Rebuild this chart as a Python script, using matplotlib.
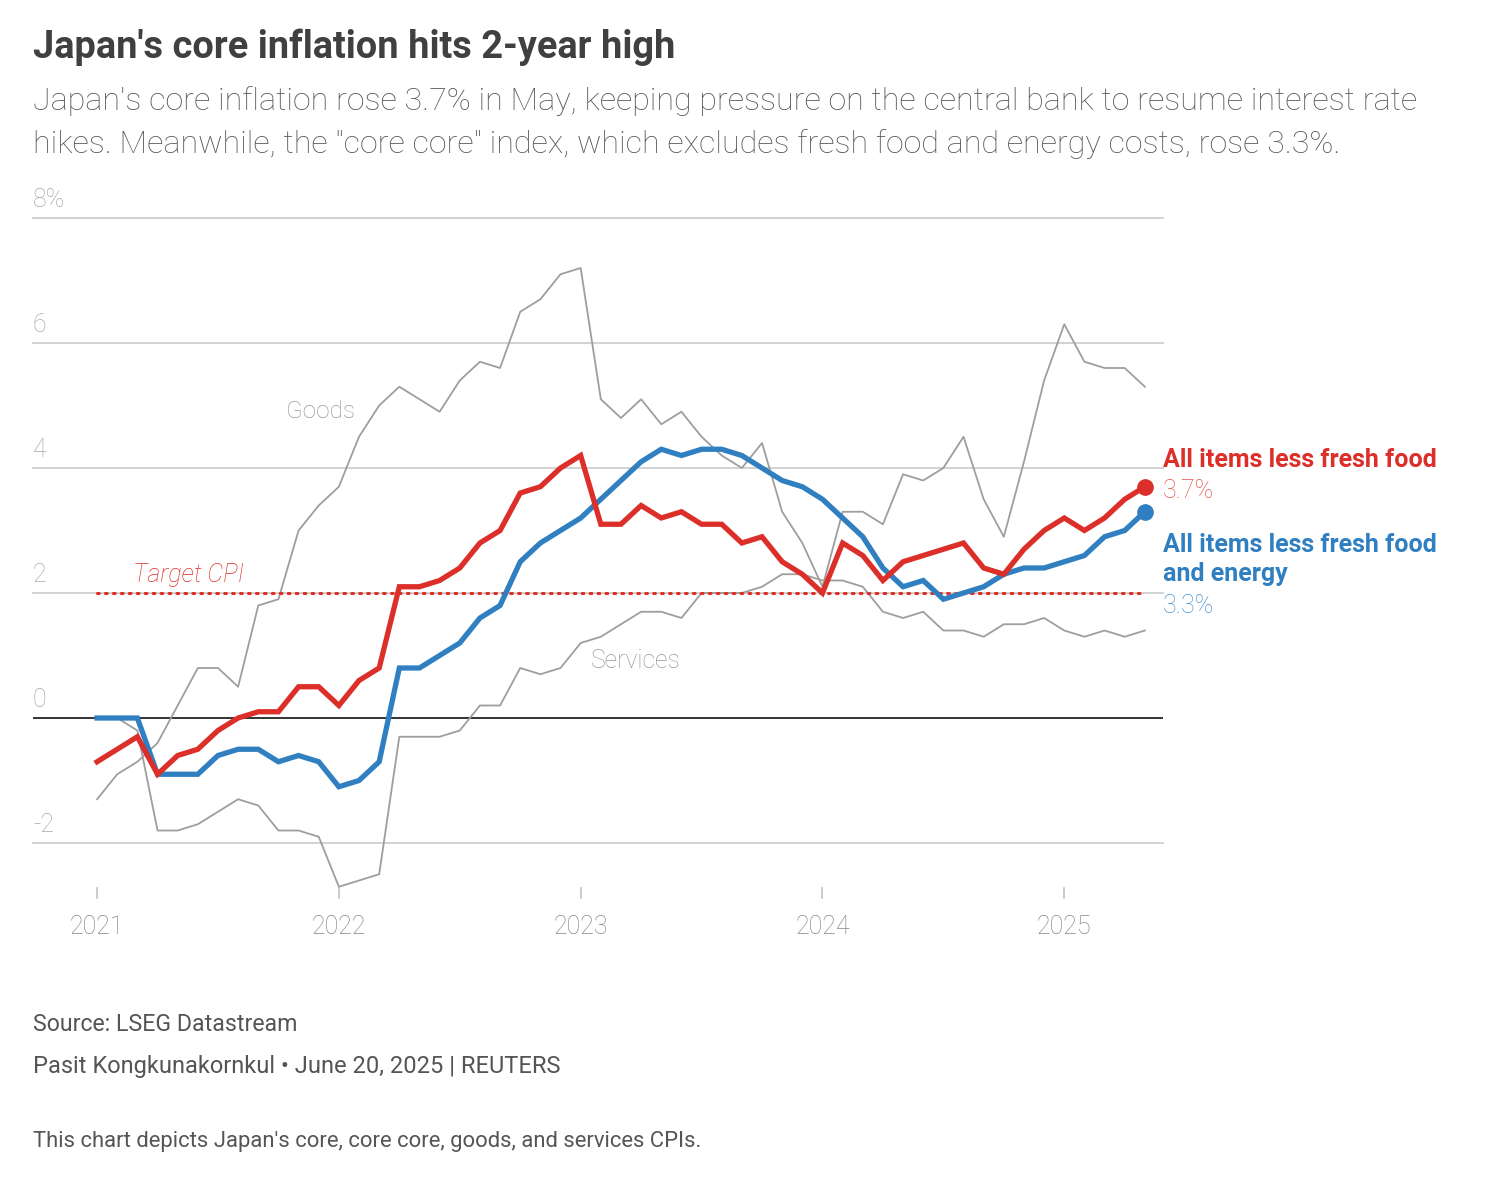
import numpy as np
import matplotlib
matplotlib.use("Agg")
from matplotlib import pyplot as plt

plt.rcParams['font.family'] = ['Roboto', 'DejaVu Sans']

# monthly, Jan 2021 .. May 2025, y/y %
core = [-0.7, -0.5, -0.3, -0.9, -0.6, -0.5, -0.2, 0.0, 0.1, 0.1, 0.5, 0.5,
        0.2, 0.6, 0.8, 2.1, 2.1, 2.2, 2.4, 2.8, 3.0, 3.6, 3.7, 4.0,
        4.2, 3.1, 3.1, 3.4, 3.2, 3.3, 3.1, 3.1, 2.8, 2.9, 2.5, 2.3,
        2.0, 2.8, 2.6, 2.2, 2.5, 2.6, 2.7, 2.8, 2.4, 2.3, 2.7, 3.0,
        3.2, 3.0, 3.2, 3.5, 3.7]
core_core = [0.0, 0.0, 0.0, -0.9, -0.9, -0.9, -0.6, -0.5, -0.5, -0.7, -0.6, -0.7,
             -1.1, -1.0, -0.7, 0.8, 0.8, 1.0, 1.2, 1.6, 1.8, 2.5, 2.8, 3.0,
             3.2, 3.5, 3.8, 4.1, 4.3, 4.2, 4.3, 4.3, 4.2, 4.0, 3.8, 3.7,
             3.5, 3.2, 2.9, 2.4, 2.1, 2.2, 1.9, 2.0, 2.1, 2.3, 2.4, 2.4,
             2.5, 2.6, 2.9, 3.0, 3.3]
goods = [-1.3, -0.9, -0.7, -0.4, 0.2, 0.8, 0.8, 0.5, 1.8, 1.9, 3.0, 3.4,
         3.7, 4.5, 5.0, 5.3, 5.1, 4.9, 5.4, 5.7, 5.6, 6.5, 6.7, 7.1,
         7.2, 5.1, 4.8, 5.1, 4.7, 4.9, 4.5, 4.2, 4.0, 4.4, 3.3, 2.8,
         2.1, 3.3, 3.3, 3.1, 3.9, 3.8, 4.0, 4.5, 3.5, 2.9, 4.1, 5.4,
         6.3, 5.7, 5.6, 5.6, 5.3]
services = [0.0, 0.0, -0.2, -1.8, -1.8, -1.7, -1.5, -1.3, -1.4, -1.8, -1.8, -1.9,
            -2.7, -2.6, -2.5, -0.3, -0.3, -0.3, -0.2, 0.2, 0.2, 0.8, 0.7, 0.8,
            1.2, 1.3, 1.5, 1.7, 1.7, 1.6, 2.0, 2.0, 2.0, 2.1, 2.3, 2.3,
            2.2, 2.2, 2.1, 1.7, 1.6, 1.7, 1.4, 1.4, 1.3, 1.5, 1.5, 1.6,
            1.4, 1.3, 1.4, 1.3, 1.4]
target = 2.0
years = ['2021', '2022', '2023', '2024', '2025']
yticks = [8, 6, 4, 2, 0, -2]

W, H = 1488, 1188
RED = '#dc2f2a'
RED_LIGHT = '#e5534d'
BLUE = '#2f7fc1'
BLUE_LIGHT = '#4a93cf'
GREY = '#9e9e9e'

def fx(px):
    return px / W

def fy(py):
    return 1 - py / H

fig = plt.figure(figsize=(W / 100, H / 100), dpi=100)
fig.patch.set_facecolor('white')

# axes placed so that Jan 2021 sits at x=97px and 0% at y=718px
ax = fig.add_axes([fx(33), fy(899.25), (1163 - 33) / W, (899.25 - 218) / H])
ax.set_xlim(-3.18, 52.9)
ax.set_ylim(-2.9, 8)
ax.axis('off')

months = np.arange(len(core))

for v in yticks:
    if v == 0:
        continue
    ax.axhline(v, color='#cfcfcf', lw=1.3, zorder=1, clip_on=False)
ax.axhline(0, color='#333333', lw=1.4, zorder=2)

ax.plot(months, goods, color=GREY, lw=1.3, zorder=3)
ax.plot(months, services, color=GREY, lw=1.3, zorder=3)
ax.plot([months[0], months[-1]], [target, target], color=RED, lw=2.2,
        ls=(0, (0.6, 2.0)), dash_capstyle='round', zorder=4)
ax.plot(months, core_core, color=BLUE, lw=3.8, zorder=5, solid_joinstyle='miter')
ax.plot(months, core, color=RED, lw=3.8, zorder=6, solid_joinstyle='miter')
ax.plot(months[-1], core_core[-1], 'o', color=BLUE, ms=11, zorder=7)
ax.plot(months[-1], core[-1], 'o', color=RED, ms=11, zorder=7)

# y tick labels above the grid lines
for v in yticks:
    lab = f'{v}%' if v == 8 else str(v)
    ax.annotate(lab, (0, v), xycoords=('axes fraction', 'data'),
                xytext=(0, 4), textcoords='offset points',
                ha='left', va='bottom', fontsize=18, color='#a8a8a8',
                fontweight='light')

# x ticks
for i, y in enumerate(years):
    m = 12 * i
    ax.plot([m, m], [-2.72, -2.88], color='#c8c8c8', lw=1.3, clip_on=False)
    ax.text(m, -3.45, y, ha='center', va='baseline', fontsize=18,
            color='#868686', fontweight='light')

ax.text(9.4, 4.8, 'Goods', fontsize=17.5, color='#999999', ha='left',
        va='baseline', fontweight='light')
ax.text(24.5, 0.8, 'Services', fontsize=17.8, color='#999999', ha='left',
        va='baseline', fontweight='light')
ax.text(1.8, 2.17, 'Target CPI', fontsize=18, color=RED, style='italic',
        ha='left', va='baseline', fontweight='light')

# end labels
fig.text(fx(1163), fy(467), 'All items less fresh food', fontsize=18,
         fontweight='bold', color=RED, va='baseline')
fig.text(fx(1163), fy(498), '3.7%', fontsize=18, color=RED_LIGHT,
         va='baseline', fontweight='light')
fig.text(fx(1163), fy(552), 'All items less fresh food', fontsize=18,
         fontweight='bold', color=BLUE, va='baseline')
fig.text(fx(1163), fy(581), 'and energy', fontsize=18,
         fontweight='bold', color=BLUE, va='baseline')
fig.text(fx(1163), fy(613), '3.3%', fontsize=18, color=BLUE_LIGHT,
         va='baseline', fontweight='light')

# header
fig.text(fx(33), fy(58), "Japan's core inflation hits 2-year high",
         fontsize=27.4, fontweight='bold', color='#404040', va='baseline')
fig.text(fx(33), fy(110),
         "Japan's core inflation rose 3.7% in May, keeping pressure on the central bank to resume interest rate",
         fontsize=23.2, color='#555555', va='baseline', fontweight='light')
fig.text(fx(33), fy(153),
         "hikes. Meanwhile, the \"core core\" index, which excludes fresh food and energy costs, rose 3.3%.",
         fontsize=23.2, color='#555555', va='baseline', fontweight='light')

# footer
fig.text(fx(33), fy(1031), 'Source: LSEG Datastream', fontsize=16.7,
         color='#555555', va='baseline')
fig.text(fx(33), fy(1073), 'Pasit Kongkunakornkul \u2022 June 20, 2025 | REUTERS',
         fontsize=17, color='#555555', va='baseline')
fig.text(fx(33), fy(1147), "This chart depicts Japan's core, core core, goods, and services CPIs.",
         fontsize=15.8, color='#555555', va='baseline')

plt.savefig('out.png', dpi=100, facecolor='white')
